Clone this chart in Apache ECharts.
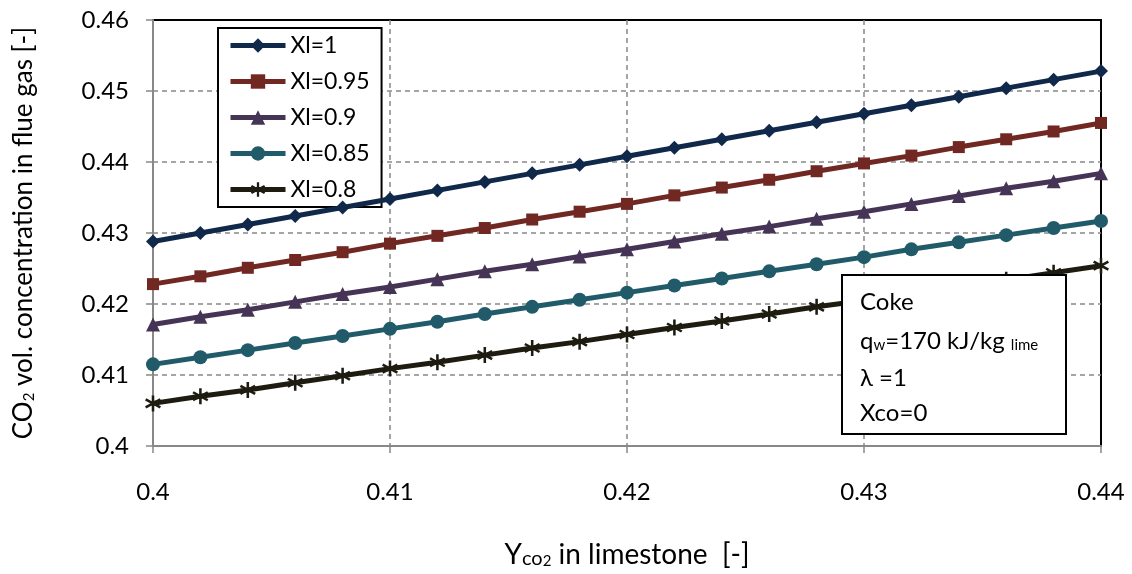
<!DOCTYPE html>
<html>
<head>
<meta charset="utf-8">
<script src="https://cdn.jsdelivr.net/npm/echarts@6/dist/echarts.min.js"></script>
<style>
  html, body { margin: 0; padding: 0; background: #fff; }
  #chart { width: 1132px; height: 574px; }
</style>
</head>
<body>
<div id="chart"></div>
<script>
// Limestone CO2 mass fraction (x axis)
const yCO2 = [0.400, 0.402, 0.404, 0.406, 0.408, 0.410, 0.412, 0.414, 0.416, 0.418, 0.420,
              0.422, 0.424, 0.426, 0.428, 0.430, 0.432, 0.434, 0.436, 0.438, 0.440];

// CO2 volume concentration in flue gas for each Xl
const xl100 = [0.4288, 0.4300, 0.4312, 0.4324, 0.4336, 0.4348, 0.4360, 0.4372, 0.4384, 0.4396, 0.4408,
               0.4420, 0.4432, 0.4444, 0.4456, 0.4468, 0.4480, 0.4492, 0.4504, 0.4516, 0.4528];
const xl095 = [0.4228, 0.4239, 0.4251, 0.4262, 0.4273, 0.4285, 0.4296, 0.4307, 0.4319, 0.4330, 0.4341,
               0.4353, 0.4364, 0.4375, 0.4387, 0.4398, 0.4409, 0.4421, 0.4432, 0.4443, 0.4455];
const xl090 = [0.4171, 0.4182, 0.4192, 0.4203, 0.4214, 0.4224, 0.4235, 0.4246, 0.4256, 0.4267, 0.4277,
               0.4288, 0.4299, 0.4309, 0.4320, 0.4330, 0.4341, 0.4352, 0.4363, 0.4373, 0.4384];
const xl085 = [0.4115, 0.4125, 0.4135, 0.4145, 0.4155, 0.4165, 0.4175, 0.4186, 0.4196, 0.4206, 0.4216,
               0.4226, 0.4236, 0.4246, 0.4256, 0.4266, 0.4277, 0.4287, 0.4297, 0.4307, 0.4317];
const xl080 = [0.4060, 0.4070, 0.4079, 0.4089, 0.4099, 0.4109, 0.4118, 0.4128, 0.4138, 0.4147, 0.4157,
               0.4167, 0.4176, 0.4186, 0.4196, 0.4205, 0.4215, 0.4225, 0.4234, 0.4244, 0.4254];

const seriesNames = ['Xl=1', 'Xl=0.95', 'Xl=0.9', 'Xl=0.85', 'Xl=0.8'];
const seriesValues = [xl100, xl095, xl090, xl085, xl080];
const seriesColors = ['#10284a', '#712823', '#463456', '#215b6a', '#1e1b10'];

// six-armed asterisk marker
const asterisk = 'path://M8.5,0L11.5,0L11.5,20L8.5,20Z' +
  'M17.91,3.7L19.41,6.3L2.09,16.3L0.59,13.7Z' +
  'M19.41,13.7L17.91,16.3L0.59,6.3L2.09,3.7Z';
const symbols = ['diamond', 'rect', 'triangle', 'circle', asterisk];
const symbolSizes = [14, 12, 14, 14, 16];

const FONT = 'Lato';
const chart = echarts.init(document.getElementById('chart'), null, { renderer: 'canvas' });

const series = seriesNames.map((name, i) => ({
  name: name,
  type: 'line',
  data: yCO2.map((x, j) => [x, seriesValues[i][j]]),
  symbol: symbols[i],
  symbolSize: symbolSizes[i],
  showAllSymbol: true,
  lineStyle: { width: 5, color: seriesColors[i] },
  itemStyle: { color: seriesColors[i] },
  emphasis: { disabled: true },
  z: 5
}));

const splitStyle = { color: '#888', type: [5, 4], width: 1.5 };

chart.setOption({
  animation: false,
  backgroundColor: '#fff',
  textStyle: { fontFamily: FONT },
  grid: {
    left: 153, right: 31, top: 20, bottom: 125,
    show: true, borderColor: '#000', borderWidth: 2, backgroundColor: 'transparent'
  },
  legend: {
    orient: 'vertical',
    left: 218, top: 28,
    padding: [6, 12, 6, 10],
    itemWidth: 55, itemHeight: 18, itemGap: 13,
    backgroundColor: '#fff',
    borderColor: '#000', borderWidth: 2,
    lineStyle: { width: 5 },
    textStyle: { fontFamily: FONT, fontSize: 23, color: '#000' },
    data: seriesNames
  },
  xAxis: {
    type: 'value', min: 0.40, max: 0.44, interval: 0.01,
    name: '{a|Y}{b|co}{c|2}{a| in limestone  [-]}',
    nameLocation: 'middle', nameGap: 95,
    nameTextStyle: {
      rich: {
        a: { fontFamily: FONT, fontSize: 28, color: '#000' },
        b: { fontFamily: FONT, fontSize: 20, color: '#000', verticalAlign: 'bottom' },
        c: { fontFamily: FONT, fontSize: 15, color: '#000', verticalAlign: 'bottom' }
      }
    },
    axisLine: { lineStyle: { color: '#888', width: 2 } },
    axisTick: { show: true, length: 7, lineStyle: { color: '#888', width: 1.5 } },
    axisLabel: {
      margin: 34, fontSize: 24, color: '#000', fontFamily: FONT,
      formatter: v => String(+v.toFixed(2))
    },
    splitLine: { show: true, showMinLine: false, showMaxLine: false, lineStyle: splitStyle }
  },
  yAxis: {
    type: 'value', min: 0.40, max: 0.46, interval: 0.01,
    name: '{a|CO}{s|2}{a| vol. concentration in flue gas [-]}',
    nameLocation: 'middle', nameGap: 116,
    nameTextStyle: {
      rich: {
        a: { fontFamily: FONT, fontSize: 26, color: '#000' },
        s: { fontFamily: FONT, fontSize: 15, color: '#000', verticalAlign: 'bottom' }
      }
    },
    axisLine: { show: true, lineStyle: { color: '#888', width: 2 } },
    axisTick: { show: true, length: 7, lineStyle: { color: '#888', width: 1.5 } },
    axisLabel: {
      margin: 24, fontSize: 24, color: '#000', fontFamily: FONT,
      formatter: v => String(+v.toFixed(2))
    },
    splitLine: { show: true, showMinLine: false, showMaxLine: false, lineStyle: splitStyle }
  },
  series: series,
  graphic: [
    {
      type: 'rect', z: 100, zlevel: 0,
      shape: { x: 842, y: 275, width: 224, height: 159 },
      style: { fill: '#fff', stroke: '#000', lineWidth: 2 }
    },
    {
      type: 'text', z: 101, x: 860, y: 302,
      style: { text: 'Coke', font: '24px ' + FONT, fill: '#000', verticalAlign: 'middle' }
    },
    {
      type: 'text', z: 101, x: 860, y: 341,
      style: {
        text: '{a|q}{s|w}{a|=170 kJ/kg }{s|lime}',
        verticalAlign: 'middle',
        rich: {
          a: { fontFamily: FONT, fontSize: 24, fill: '#000' },
          s: { fontFamily: FONT, fontSize: 15, fill: '#000', verticalAlign: 'bottom' }
        }
      }
    },
    {
      type: 'text', z: 101, x: 860, y: 378,
      style: { text: 'λ =1', font: '24px ' + FONT, fill: '#000', verticalAlign: 'middle' }
    },
    {
      type: 'text', z: 101, x: 860, y: 413,
      style: { text: 'Xco=0', font: '24px ' + FONT, fill: '#000', verticalAlign: 'middle' }
    }
  ]
});
</script>
</body>
</html>
